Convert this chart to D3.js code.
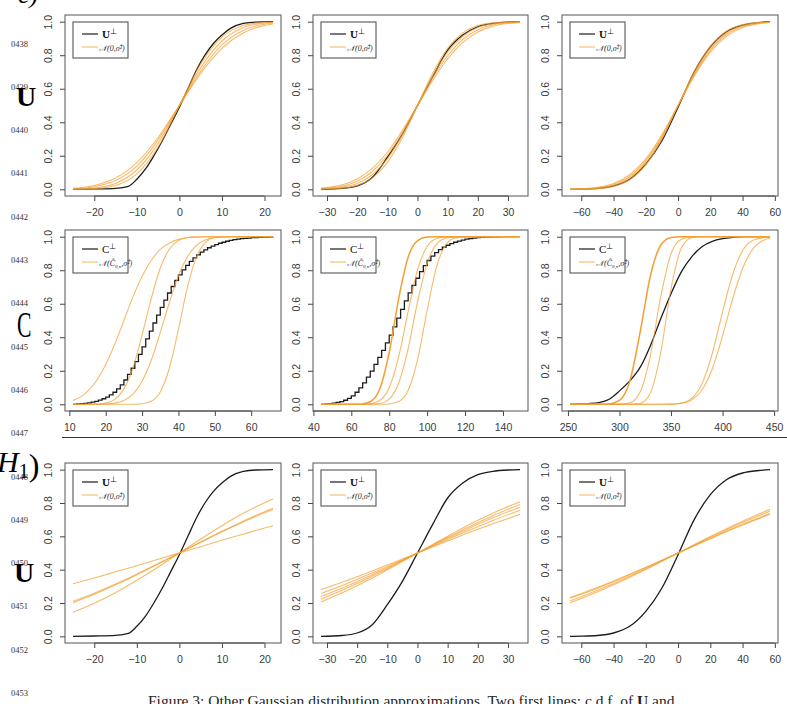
<!DOCTYPE html>
<html>
<head>
<meta charset="utf-8">
<script src="https://cdn.jsdelivr.net/npm/d3@7"></script>
<style>
  body { margin: 0; background: #fff; }
  svg { display: block; }
  .tick line, .domain { stroke: #444; }
  .tick text { fill: #3a3a3a; font-family: "Liberation Sans", Arial, sans-serif; font-size: 10.5px; }
</style>
</head>
<body>
<div class="content"></div>
<script>
var svgWidth = 787;   // The width of the SVG element.
var svgHeight = 704;  // The height of the SVG element.

// Margin line numbers of the page.
var lineNumbers = ["0438", "0439", "0440", "0441", "0442", "0443", "0444", "0445",
                   "0446", "0447", "0448", "0449", "0450", "0451", "0452", "0453"];

var yTicks = [0, 0.2, 0.4, 0.6, 0.8, 1];

// Column 1: U, small case.
var u1Ticks = [-20, -10, 0, 10, 20];
var u1X = [-25, -20, -15, -12, -10, -8, -6, -4, -2, 0, 2, 4, 6, 8, 10, 12, 15, 18, 22];
var u1Cdf = [0, .002, .006, .018, .06, .12, .2, .29, .39, .49, .6, .71, .8, .87, .92, .96, .99, .998, 1];
var u1GridX = [-25, -20, -15, -10, -5, 0, 5, 10, 15, 20, 22];
var u1Fit = [
	[.000, .004, .023, .092, .252, .5, .748, .908, .977, .996, .998],
	[.001, .008, .035, .115, .274, .5, .726, .885, .965, .992, .996],
	[.003, .015, .052, .138, .295, .5, .705, .862, .948, .985, .992],
	[.006, .023, .067, .159, .309, .5, .691, .841, .933, .977, .986]
];
var u1Bad = [
	[.315, .350, .387, .424, .462, .5, .538, .576, .613, .650, .664],
	[.210, .259, .314, .373, .436, .5, .564, .627, .686, .741, .761],
	[.202, .252, .309, .370, .434, .5, .566, .630, .691, .748, .768],
	[.145, .199, .262, .336, .416, .5, .584, .664, .738, .801, .824]
];

// Column 2: U, medium case.
var u2Ticks = [-30, -20, -10, 0, 10, 20, 30];
var u2X = [-32, -25, -20, -15, -10, -5, 0, 5, 10, 15, 20, 25, 30, 34];
var u2Cdf = [0, .005, .02, .07, .19, .33, .5, .67, .83, .92, .97, .99, .998, 1];
var u2GridX = [-32, -25, -20, -15, -10, -5, 0, 5, 10, 15, 20, 25, 34];
var u2Fit = [
	[.001, .006, .023, .067, .159, .309, .5, .691, .841, .933, .977, .994, 1],
	[.002, .012, .034, .087, .181, .325, .5, .675, .819, .913, .966, .988, .999],
	[.004, .019, .048, .106, .203, .338, .5, .662, .797, .894, .952, .981, .998],
	[.007, .027, .062, .125, .221, .352, .5, .648, .779, .875, .938, .973, .996]
];
var u2Bad = [
	[.206, .261, .304, .350, .399, .449, .5, .551, .601, .650, .696, .739, .808],
	[.223, .276, .317, .361, .406, .453, .5, .547, .594, .639, .683, .724, .791],
	[.239, .289, .328, .370, .412, .456, .5, .544, .588, .630, .672, .711, .775],
	[.257, .305, .342, .380, .419, .459, .5, .541, .581, .620, .658, .695, .756],
	[.280, .325, .358, .392, .428, .464, .5, .536, .572, .608, .642, .675, .732]
];

// Column 3: U, large case.
var u3Ticks = [-60, -40, -20, 0, 20, 40, 60];
var u3X = [-67, -60, -50, -40, -30, -20, -10, 0, 10, 20, 30, 40, 50, 57];
var u3Cdf = [0, .001, .005, .02, .06, .15, .29, .49, .70, .85, .94, .98, .995, 1];
var u3Fit = [
	[.000, .001, .004, .017, .057, .147, .299, .5, .701, .853, .943, .983, .996, .999],
	[.000, .001, .006, .023, .067, .159, .309, .5, .691, .841, .933, .977, .994, .998],
	[.001, .002, .009, .029, .076, .171, .316, .5, .684, .829, .924, .971, .991, .997],
	[.001, .003, .012, .034, .087, .181, .325, .5, .675, .819, .913, .966, .988, .995]
];
var u3BadX = [-67, -60, -40, -20, 0, 20, 40, 57];
var u3Bad = [
	[.201, .227, .309, .401, .5, .599, .691, .762],
	[.212, .238, .317, .406, .5, .594, .683, .751],
	[.228, .252, .328, .412, .5, .588, .672, .737],
	[.233, .257, .332, .414, .5, .586, .668, .732]
];

// Row 2: C, three cases.
var c1Ticks = [10, 20, 30, 40, 50, 60];
var c1X = d3.range(11, 67);
var c1Cdf = [0, .002, .004, .006, .009, .013, .018, .025, .033, .043,
	.056, .072, .092, .116, .145, .178, .215, .255, .298, .343,
	.39, .437, .485, .532, .578, .622, .664, .703, .739, .772,
	.802, .829, .853, .874, .892, .908, .922, .934, .944, .953,
	.961, .967, .973, .978, .982, .985, .988, .99, .992, .994,
	.995, .996, .997, .998, .999, 1];
var c1GridX = [11, 14, 17, 20, 22.5, 25, 27.5, 30, 32.5, 35, 37.5, 40, 42.5, 45, 47.5, 50, 55, 60, 66];
var c1Fit = [
	[.023, .058, .127, .238, .359, .5, .641, .762, .858, .924, .963, .984, .994, .998, 1, 1, 1, 1, 1],
	[0, 0, .001, .007, .029, .092, .218, .413, .629, .813, .925, .977, .995, .999, 1, 1, 1, 1, 1],
	[0, 0, 0, .002, .007, .023, .061, .138, .261, .429, .606, .767, .881, .949, .982, .995, 1, 1, 1],
	[0, 0, 0, 0, 0, 0, 0, .003, .018, .074, .215, .448, .702, .881, .967, .994, 1, 1, 1]
];

var c2Ticks = [40, 60, 80, 100, 120, 140];
var c2X = d3.range(44, 150, 2);
var c2Cdf = [0, .002, .004, .007, .011, .016, .024, .035, .05, .072,
	.098, .128, .162, .198, .238, .28, .322, .366, .413, .462,
	.514, .566, .617, .665, .71, .752, .792, .828, .858, .884,
	.905, .923, .938, .949, .959, .967, .974, .98, .985, .989,
	.992, .994, .996, .997, .998, .999, .999, 1, 1, 1,
	1, 1, 1];
var c2GridX = [44, 55, 60, 65, 70, 75, 80, 85, 90, 95, 100, 105, 110, 115, 120, 130, 149];
var c2Fit = [
	[0, 0, 0, .001, .015, .091, .309, .631, .879, .977, .998, 1, 1, 1, 1, 1, 1],
	[0, 0, 0, 0, .003, .023, .099, .284, .556, .805, .942, .989, .999, 1, 1, 1, 1],
	[0, 0, 0, 0, .001, .005, .031, .127, .334, .614, .841, .957, .992, .999, 1, 1, 1],
	[0, 0, 0, 0, 0, 0, .002, .016, .084, .268, .56, .821, .955, .993, .999, 1, 1]
];

var c3Ticks = [250, 300, 350, 400, 450];
var c3X = [252, 260, 270, 280, 290, 300, 310, 320, 330, 340, 350, 360, 370, 380, 390, 400, 410, 420, 446];
var c3Cdf = [0, .002, .004, .01, .03, .08, .14, .22, .35, .51, .66, .79, .88, .94, .972, .988, .996, 1, 1];
var c3GridX = [252, 270, 280, 290, 300, 310, 320, 330, 340, 350, 360, 370, 380, 390, 400, 410, 420, 430, 446];
var c3Fit = [
	[0, 0, 0, .002, .023, .138, .429, .767, .949, .995, 1, 1, 1, 1, 1, 1, 1, 1, 1],
	[0, 0, 0, 0, .001, .009, .074, .291, .641, .898, .985, .999, 1, 1, 1, 1, 1, 1, 1],
	[0, 0, 0, 0, 0, 0, .006, .067, .309, .691, .933, .994, 1, 1, 1, 1, 1, 1, 1],
	[0, 0, 0, 0, 0, 0, 0, 0, 0, .001, .007, .035, .123, .302, .552, .779, .922, .98, .999],
	[0, 0, 0, 0, 0, 0, 0, 0, 0, .001, .006, .026, .085, .212, .409, .633, .819, .932, .992]
];

// Plot box edges of the 3x3 grid.
var colX = [[65, 281], [313, 528], [562, 778]];
var rowY = [[15, 196], [230, 411], [463, 643]];

var orange = "#f4a030";
var serif = "'Liberation Serif', 'Times New Roman', serif";

var panels = [
	{row: 0, col: 0, kind: "U", ticks: u1Ticks, bx: u1X, by: u1Cdf, fx: u1GridX, fits: u1Fit},
	{row: 0, col: 1, kind: "U", ticks: u2Ticks, bx: u2X, by: u2Cdf, fx: u2GridX, fits: u2Fit},
	{row: 0, col: 2, kind: "U", ticks: u3Ticks, bx: u3X, by: u3Cdf, fx: u3X, fits: u3Fit},
	{row: 1, col: 0, kind: "C", ticks: c1Ticks, bx: c1X, by: c1Cdf, fx: c1GridX, fits: c1Fit, step: true},
	{row: 1, col: 1, kind: "C", ticks: c2Ticks, bx: c2X, by: c2Cdf, fx: c2GridX, fits: c2Fit, step: true, strong: 0},
	{row: 1, col: 2, kind: "C", ticks: c3Ticks, bx: c3X, by: c3Cdf, fx: c3GridX, fits: c3Fit, strong: 0},
	{row: 2, col: 0, kind: "U", ticks: u1Ticks, bx: u1X, by: u1Cdf, fx: u1GridX, fits: u1Bad},
	{row: 2, col: 1, kind: "U", ticks: u2Ticks, bx: u2X, by: u2Cdf, fx: u2GridX, fits: u2Bad},
	{row: 2, col: 2, kind: "U", ticks: u3Ticks, bx: u3X, by: u3Cdf, fx: u3BadX, fits: u3Bad}
];

var svg = d3.select(".content")
	.append("svg")
	.attr("width", svgWidth)
	.attr("height", svgHeight);

// Page decorations: margin line numbers, row labels, rule and caption.
svg.selectAll("text.lineno")
	.data(lineNumbers)
	.enter().append("text")
	.attr("class", "lineno")
	.attr("x", 11)
	.attr("y", function(d, i) { return 46.5 + i * 43.3; })
	.attr("font-family", serif)
	.attr("font-size", 8.5)
	.attr("fill", "#333")
	.text(function(d) { return d; });

svg.append("text").attr("x", 18).attr("y", 3).attr("font-family", serif)
	.attr("font-style", "italic").attr("font-size", 26).text("e)");

svg.append("text").attr("x", 16).attr("y", 106).attr("font-family", serif)
	.attr("font-weight", "bold").attr("font-size", 28).text("U");
svg.append("text").attr("transform", "translate(17,337) scale(0.62,1)").attr("font-family", serif)
	.attr("font-size", 35).text("C");
svg.append("text").attr("x", 14).attr("y", 582).attr("font-family", serif)
	.attr("font-weight", "bold").attr("font-size", 28).text("U");

var h1 = svg.append("text").attr("x", -3).attr("y", 472).attr("font-family", serif).attr("font-size", 30);
h1.append("tspan").attr("font-style", "italic").text("H");
h1.append("tspan").attr("font-size", 20).attr("dy", 6).text("1");
h1.append("tspan").attr("font-size", 32).attr("dy", -2).text(")");

svg.append("line")
	.attr("x1", 62).attr("x2", svgWidth)
	.attr("y1", 437.5).attr("y2", 437.5)
	.attr("stroke", "#333").attr("stroke-width", 1.2);

var caption = svg.append("text").attr("x", 148).attr("y", 706)
	.attr("font-family", serif).attr("font-size", 15.5).attr("fill", "#222");
caption.append("tspan").text("Figure 3: Other Gaussian distribution approximations. Two first lines: c.d.f. of ");
caption.append("tspan").attr("font-weight", "bold").text("U");
caption.append("tspan").text(" and");

panels.forEach(draw_panel);

function draw_panel(p)
{
	var left = colX[p.col][0], right = colX[p.col][1];
	var top = rowY[p.row][0], bottom = rowY[p.row][1];

	// R style ranges: data extent widened by 4% on each side.
	var ext = d3.extent(p.bx.concat(p.fx));
	var pad = (ext[1] - ext[0]) * 0.04;
	var x = d3.scaleLinear().domain([ext[0] - pad, ext[1] + pad]).range([left, right]);
	var y = d3.scaleLinear().domain([-0.04, 1.04]).range([bottom, top]);

	var g = svg.append("g");

	// Empirical c.d.f.
	var blackLine = d3.line()
		.x(function(d) { return x(d[0]); })
		.y(function(d) { return y(d[1]); })
		.curve(p.step ? d3.curveStepAfter : d3.curveMonotoneX);
	g.append("path")
		.datum(d3.zip(p.bx, p.by))
		.attr("d", blackLine)
		.attr("fill", "none")
		.attr("stroke", "#1c1c1c")
		.attr("stroke-width", 1.3);

	// Gaussian approximations.
	var fitLine = d3.line()
		.x(function(d) { return x(d[0]); })
		.y(function(d) { return y(d[1]); })
		.curve(d3.curveMonotoneX);
	g.selectAll("path.fit")
		.data(p.fits)
		.enter().append("path")
		.attr("class", "fit")
		.attr("d", function(d) { return fitLine(d3.zip(p.fx, d)); })
		.attr("fill", "none")
		.attr("stroke", orange)
		.attr("stroke-opacity", function(d, i) { return i === p.strong ? 1 : 0.72; })
		.attr("stroke-width", function(d, i) { return i === p.strong ? 1.5 : 1.1; });

	// Axes.
	var xAxis = g.append("g")
		.attr("transform", "translate(0," + bottom + ")")
		.call(d3.axisBottom(x).tickValues(p.ticks).tickSize(5).tickSizeOuter(0).tickPadding(8));
	xAxis.select(".domain").remove();
	xAxis.append("line")
		.attr("x1", x(p.ticks[0])).attr("x2", x(p.ticks[p.ticks.length - 1]))
		.attr("stroke", "#444");

	var yAxis = g.append("g")
		.attr("transform", "translate(" + left + ",0)")
		.call(d3.axisLeft(y).tickValues(yTicks).tickSize(5).tickSizeOuter(0).tickFormat(d3.format(".1f")));
	yAxis.select(".domain").remove();
	yAxis.selectAll(".tick text")
		.attr("x", 0)
		.attr("dy", 0)
		.attr("text-anchor", "middle")
		.attr("transform", "translate(-13,0) rotate(-90)");

	// Plot box.
	g.append("rect")
		.attr("x", left).attr("y", top)
		.attr("width", right - left).attr("height", bottom - top)
		.attr("fill", "none")
		.attr("stroke", "#555")
		.attr("stroke-width", 1);

	// Legend.
	var lx = left + 8, ly = top + 7;
	g.append("rect")
		.attr("x", lx).attr("y", ly).attr("width", 55).attr("height", 36)
		.attr("fill", "#fff").attr("stroke", "#444");
	g.append("line")
		.attr("x1", lx + 9).attr("x2", lx + 25).attr("y1", ly + 12).attr("y2", ly + 12)
		.attr("stroke", "#1c1c1c").attr("stroke-width", 1.2);
	g.append("line")
		.attr("x1", lx + 9).attr("x2", lx + 25).attr("y1", ly + 25).attr("y2", ly + 25)
		.attr("stroke", orange).attr("stroke-opacity", 0.72).attr("stroke-width", 1.1);

	var t1 = g.append("text")
		.attr("x", lx + 29).attr("y", ly + 16)
		.attr("font-family", serif).attr("font-size", 11).attr("fill", "#111");
	t1.append("tspan").attr("font-weight", p.kind === "U" ? "bold" : "normal").text(p.kind);
	t1.append("tspan").attr("font-size", 7.5).attr("dy", -4).text("⊥");

	var t2 = g.append("text")
		.attr("x", lx + 26).attr("y", ly + 29)
		.attr("font-family", serif).attr("font-size", 8).attr("font-style", "italic").attr("fill", "#333");
	if (p.kind === "U")
	{
		t2.text("𝒩(0,σ̂²)");
	}
	else
	{
		t2.append("tspan").text("𝒩(Ĉ");
		t2.append("tspan").attr("font-size", 5).attr("dy", 2).text("0,n");
		t2.append("tspan").attr("dy", -2).text(",σ̂²)");
	}
}
</script>
</body>
</html>
